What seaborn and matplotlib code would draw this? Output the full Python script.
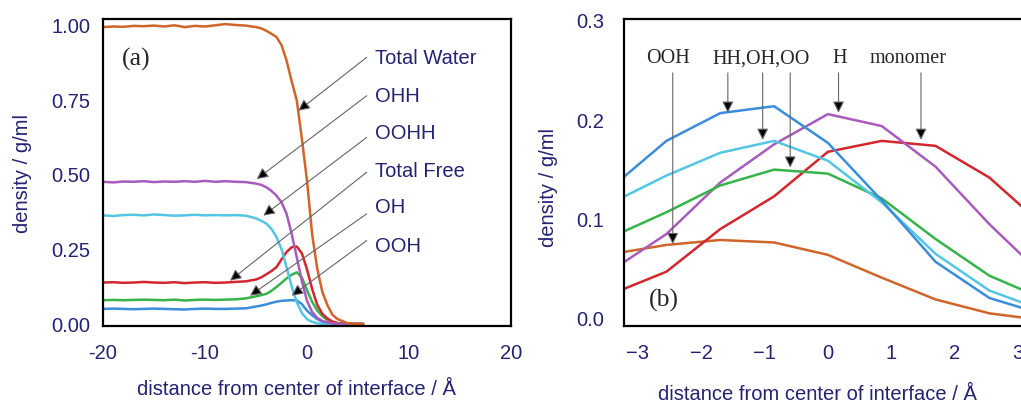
import matplotlib
matplotlib.use('Agg')
import pandas as pd
import matplotlib.pyplot as plt
import seaborn as sns

# panel (a): density profiles across the interface
left_x = [-20, -19, -18, -17, -16, -15, -14, -13, -12, -11, -10, -9, -8, -7, -6,
          -5, -4.5, -4, -3.5, -3, -2.5, -2, -1.5, -1, -0.5, 0, 0.5, 1, 1.5, 2,
          2.5, 3, 4, 5, 5.5]
total_water = [0.990, 0.992, 0.991, 0.994, 0.993, 0.995, 0.992, 0.996, 0.990, 0.994,
               0.992, 0.996, 1.000, 0.997, 0.995, 0.990, 0.986, 0.978, 0.968, 0.957,
               0.930, 0.878, 0.809, 0.745, 0.617, 0.478, 0.300, 0.185, 0.107, 0.063,
               0.030, 0.016, 0.002, 0.0, 0.0]
ohh = [0.474, 0.472, 0.475, 0.474, 0.476, 0.473, 0.475, 0.474, 0.476, 0.474,
       0.477, 0.474, 0.476, 0.474, 0.473, 0.468, 0.464, 0.456, 0.444, 0.428,
       0.406, 0.367, 0.300, 0.222, 0.142, 0.077, 0.040, 0.020, 0.010, 0.005,
       0.002, 0.0, 0.0, 0.0, 0.0]
oohh = [0.362, 0.360, 0.363, 0.364, 0.362, 0.365, 0.363, 0.361, 0.362, 0.364,
        0.362, 0.363, 0.362, 0.363, 0.361, 0.352, 0.344, 0.335, 0.318, 0.290,
        0.250, 0.189, 0.125, 0.072, 0.036, 0.016, 0.007, 0.002, 0.0, 0.0,
        0.0, 0.0, 0.0, 0.0, 0.0]
total_free = [0.138, 0.139, 0.137, 0.138, 0.140, 0.138, 0.137, 0.139, 0.136, 0.138,
              0.139, 0.137, 0.138, 0.140, 0.142, 0.148, 0.155, 0.165, 0.176, 0.189,
              0.215, 0.240, 0.256, 0.258, 0.235, 0.182, 0.117, 0.064, 0.034, 0.018,
              0.008, 0.003, 0.0, 0.0, 0.0]
oh = [0.079, 0.080, 0.079, 0.080, 0.081, 0.080, 0.079, 0.081, 0.078, 0.080,
      0.081, 0.080, 0.081, 0.082, 0.085, 0.092, 0.096, 0.100, 0.110, 0.123,
      0.137, 0.152, 0.164, 0.172, 0.155, 0.112, 0.074, 0.045, 0.026, 0.013,
      0.006, 0.002, 0.0, 0.0, 0.0]
ooh = [0.050, 0.051, 0.050, 0.049, 0.050, 0.051, 0.050, 0.049, 0.048, 0.050,
       0.051, 0.050, 0.050, 0.051, 0.052, 0.058, 0.061, 0.065, 0.070, 0.074,
       0.077, 0.078, 0.079, 0.078, 0.066, 0.044, 0.029, 0.016, 0.008, 0.002,
       0.0, 0.0, 0.0, 0.0, 0.0]

left_names = ['Total Water', 'OHH', 'OOHH', 'Total Free', 'OH', 'OOH']
left_tails = [(5.85, 0.889), (5.85, 0.761), (5.85, 0.622), (5.85, 0.506), (5.85, 0.367), (5.85, 0.278)]
left_heads = [(-0.85, 0.711), (-4.93, 0.483), (-4.28, 0.361), (-7.55, 0.144), (-5.59, 0.094), (-1.5, 0.094)]
left_label_y = [0.89, 0.763, 0.64, 0.513, 0.39, 0.263]

# panel (b): close-up around the interface
right_x = [-3.40, -2.55, -1.70, -0.85, 0.0, 0.85, 1.70, 2.55, 3.40]
r_ooh = [0.064, 0.073, 0.078, 0.0755, 0.063, 0.040, 0.018, 0.004, -0.003]
r_hh = [0.132, 0.178, 0.206, 0.213, 0.176, 0.118, 0.056, 0.0195, 0.003]
r_oh = [0.116, 0.143, 0.166, 0.178, 0.158, 0.116, 0.064, 0.027, 0.007]
r_oo = [0.0815, 0.106, 0.133, 0.149, 0.145, 0.120, 0.079, 0.042, 0.0186]
r_h = [0.048, 0.084, 0.136, 0.1745, 0.205, 0.193, 0.152, 0.094, 0.042]
r_monomer = [0.024, 0.046, 0.089, 0.122, 0.167, 0.178, 0.173, 0.141, 0.0926]

right_names = ['OOH', 'HH,OH,OO', 'H', 'monomer']
right_name_x = [-2.52, -1.05, 0.18, 1.26]
right_arrow_x = [-2.45, -1.58, -1.03, -0.595, 0.168, 1.47]
right_arrow_tip = [0.0738, 0.2064, 0.179, 0.151, 0.2064, 0.179]

left_xticks = [-20, -10, 0, 10, 20]
left_xticklabels = ['-20', '-10', '0', '10', '20']
left_yticks = [0, 0.25, 0.5, 0.75, 1.0]
left_yticklabels = ['0.00', '0.25', '0.50', '0.75', '1.00']
right_xticks = [-3, -2, -1, 0, 1, 2, 3]
right_xticklabels = ['\u22123', '\u22122', '\u22121', '0', '1', '2', '3']
right_yticks = [0.0, 0.1, 0.2, 0.3]
right_yticklabels = ['0.0', '0.1', '0.2', '0.3']

ORANGE = '#d0652a'
PURPLE = '#a95bbd'
CYAN = '#52c6e3'
RED = '#d3262e'
GREEN = '#35b44a'
BLUE = '#3a8ddb'
NAVY = '#232372'

sns.set_style('white')
plt.rcParams['font.family'] = ['Liberation Sans', 'DejaVu Sans']

fig = plt.figure(figsize=(10.21, 4.02), dpi=100)
ax1 = fig.add_axes([103 / 1021, 75 / 402, 408 / 1021, 307 / 402])
ax2 = fig.add_axes([624 / 1021, 75 / 402, 416 / 1021, 307 / 402])

left_series = [(ooh, BLUE), (oh, GREEN), (total_free, RED), (oohh, CYAN), (ohh, PURPLE), (total_water, ORANGE)]
for vals, col in left_series:
    sns.lineplot(x=left_x, y=vals, color=col, lw=1.8, ax=ax1)

right_series = [(r_ooh, ORANGE), (r_monomer, RED), (r_h, PURPLE), (r_oo, GREEN), (r_oh, CYAN), (r_hh, BLUE)]
for vals, col in right_series:
    sns.lineplot(x=right_x, y=vals, color=col, lw=1.8, ax=ax2)

arrow = dict(arrowstyle='-|>', ec='0.4', fc='black', lw=0.8, mutation_scale=17, shrinkA=0, shrinkB=0)

for name, tail, head, ly in zip(left_names, left_tails, left_heads, left_label_y):
    ax1.annotate('', xy=head, xytext=tail, arrowprops=arrow)
    ax1.text(6.67, ly, name, ha='left', va='center', fontsize=14.5, color=NAVY)
ax1.text(-18.17, 0.864, '(a)', ha='left', va='baseline', fontsize=18.5, family='Liberation Serif')

for name, nx in zip(right_names, right_name_x):
    ax2.text(nx, 0.2574, name, ha='center', va='baseline', fontsize=14.5, family='Liberation Serif')
for ax_x, tip in zip(right_arrow_x, right_arrow_tip):
    ax2.annotate('', xy=(ax_x, tip), xytext=(ax_x, 0.2466), arrowprops=arrow)
ax2.text(-2.82, 0.0117, '(b)', ha='left', va='baseline', fontsize=18.5, family='Liberation Serif')

ax1.set_xlim(-20, 20)
ax1.set_ylim(-0.007, 1.017)
ax1.set_xticks(left_xticks, left_xticklabels)
ax1.set_yticks(left_yticks, left_yticklabels)
ax2.set_xlim(-3.22, 3.35)
ax2.set_ylim(-0.0088, 0.301)
ax2.set_xticks(right_xticks, right_xticklabels)
ax2.set_yticks(right_yticks, right_yticklabels)

for ax in (ax1, ax2):
    ax.tick_params(length=0, labelsize=14.5, labelcolor=NAVY)
    ax.tick_params(axis='x', pad=12)
    for s in ax.spines.values():
        s.set_color('black')
        s.set_linewidth(1.6)
    ax.set_xlabel('distance from center of interface / \u00c5', fontsize=14.5, color=NAVY)
    ax.set_ylabel('density / g/ml', fontsize=14.5, color=NAVY)
ax1.tick_params(axis='y', pad=9)
ax2.tick_params(axis='y', pad=14)

ax1.xaxis.set_label_coords(0.475, -0.173)
ax2.xaxis.set_label_coords(0.464, -0.189)
ax1.yaxis.set_label_coords(-0.175, 0.5)
ax2.yaxis.set_label_coords(-0.159, 0.456)

fig.savefig('out.png', dpi=100)
